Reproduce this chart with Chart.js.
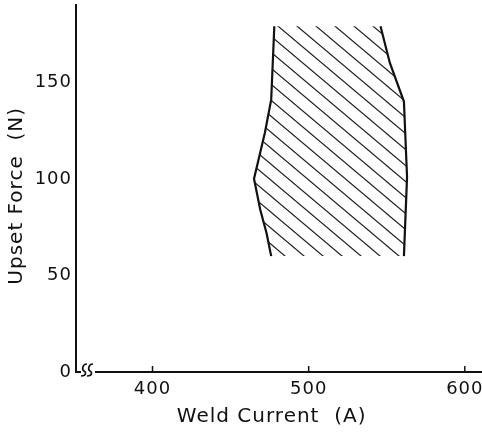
<!DOCTYPE html>
<html>
<head>
<meta charset="utf-8">
<script src="https://cdn.jsdelivr.net/npm/chart.js@4.4.1/dist/chart.umd.min.js"></script>
<style>
  html, body { margin: 0; padding: 0; background: #fff; }
  #wrap { width: 482px; height: 438px; }
</style>
</head>
<body>
<div id="wrap"><canvas id="weldChart" width="482" height="438"></canvas></div>
<script>
// Sınır çizgileri (okunan değerler)
const leftCurrent = [478, 476, 472, 465, 469, 473, 476];
const leftForce = [179, 141, 124, 100, 84, 72, 60];
const rightCurrent = [561, 563, 561, 552, 546];
const rightForce = [60, 101, 140, 160, 179];

const xTicks = [400, 500, 600];
const yTicks = [0, 50, 100, 150];
const xRange = [351, 611];
const yRange = [0, 190];

const toPoints = (xs, ys) => xs.map((x, i) => ({ x: x, y: ys[i] }));
const leftLine = toPoints(leftCurrent, leftForce);
const rightLine = toPoints(rightCurrent, rightForce);

// Tarama deseni
function makeHatch() {
    const w = 19, h = 16;
    const c = document.createElement('canvas');
    c.width = w;
    c.height = h;
    const g = c.getContext('2d');
    g.strokeStyle = '#1a1a1a';
    g.lineWidth = 1.2;
    [-w, 0, w].forEach(off => {
        g.beginPath();
        g.moveTo(off - w, -h);
        g.lineTo(off + 2 * w, 2 * h);
        g.stroke();
    });
    return document.getElementById('weldChart').getContext('2d').createPattern(c, 'repeat');
}

// Harf aralığı
const spacing = {
    id: 'spacing',
    beforeDraw(chart) {
        chart.ctx.letterSpacing = '1px';
    }
};

// Eksen işaretleri ve kırılma sembolü
const axisExtras = {
    id: 'axisExtras',
    afterDraw(chart) {
        const ctx = chart.ctx;
        const xs = chart.scales.x;
        const base = chart.scales.y.bottom;
        ctx.save();
        ctx.strokeStyle = '#111';
        ctx.lineWidth = 1.5;
        xs.ticks.forEach(t => {
            const px = xs.getPixelForValue(t.value);
            ctx.beginPath();
            ctx.moveTo(px, base);
            ctx.lineTo(px, base - 6);
            ctx.stroke();
        });
        // kırılma
        const bx = xs.left + 5;
        ctx.fillStyle = '#fff';
        ctx.fillRect(bx, base - 3, 14, 6);
        ctx.lineWidth = 1.7;
        [bx + 3, bx + 9].forEach(sx => {
            ctx.beginPath();
            ctx.moveTo(sx + 3, base - 8);
            ctx.bezierCurveTo(sx - 2, base - 8, sx - 2, base - 2, sx, base - 1);
            ctx.bezierCurveTo(sx + 2, base, sx + 3, base + 4, sx - 3, base + 4);
            ctx.stroke();
        });
        ctx.restore();
    }
};

const font = 'DejaVu Sans';

new Chart(document.getElementById('weldChart'), {
    type: 'scatter',
    data: {
        datasets: [
            {
                data: leftLine.concat(rightLine),
                showLine: true,
                fill: 'shape',
                backgroundColor: makeHatch(),
                borderWidth: 0,
                borderColor: 'rgba(0,0,0,0)',
                pointRadius: 0,
                tension: 0
            },
            {
                data: leftLine,
                showLine: true,
                fill: false,
                borderColor: '#111',
                borderWidth: 2.2,
                pointRadius: 0,
                tension: 0
            },
            {
                data: rightLine,
                showLine: true,
                fill: false,
                borderColor: '#111',
                borderWidth: 2.2,
                pointRadius: 0,
                tension: 0
            }
        ]
    },
    options: {
        responsive: false,
        animation: false,
        devicePixelRatio: 1,
        layout: { padding: { top: 5, right: 0, left: 0, bottom: 0 } },
        plugins: {
            legend: { display: false },
            tooltip: { enabled: false }
        },
        scales: {
            x: {
                type: 'linear',
                min: xRange[0],
                max: xRange[1],
                afterBuildTicks: s => { s.ticks = xTicks.map(v => ({ value: v })); },
                afterFit: s => { s.height = 66; s.paddingLeft = 0; s.paddingRight = 0; },
                grid: { display: false, drawTicks: false },
                border: { display: true, color: '#111', width: 2 },
                ticks: { color: '#111', padding: 7, font: { family: font, size: 18 } },
                title: {
                    display: true,
                    text: 'Weld Current  (A)  ',
                    color: '#111',
                    padding: { top: 0, bottom: 9 },
                    font: { family: font, size: 20 }
                }
            },
            y: {
                type: 'linear',
                min: yRange[0],
                max: yRange[1],
                afterBuildTicks: s => { s.ticks = yTicks.map(v => ({ value: v })); },
                afterFit: s => { s.width = 76; s.paddingTop = 0; s.paddingBottom = 0; },
                grid: { display: false, drawTicks: false },
                border: { display: true, color: '#111', width: 2 },
                ticks: { color: '#111', padding: 4, font: { family: font, size: 18 } },
                title: {
                    display: true,
                    text: 'Upset Force  (N)  ',
                    color: '#111',
                    padding: { top: 5, bottom: 0 },
                    font: { family: font, size: 20 }
                }
            }
        }
    },
    plugins: [spacing, axisExtras]
});
</script>
</body>
</html>
